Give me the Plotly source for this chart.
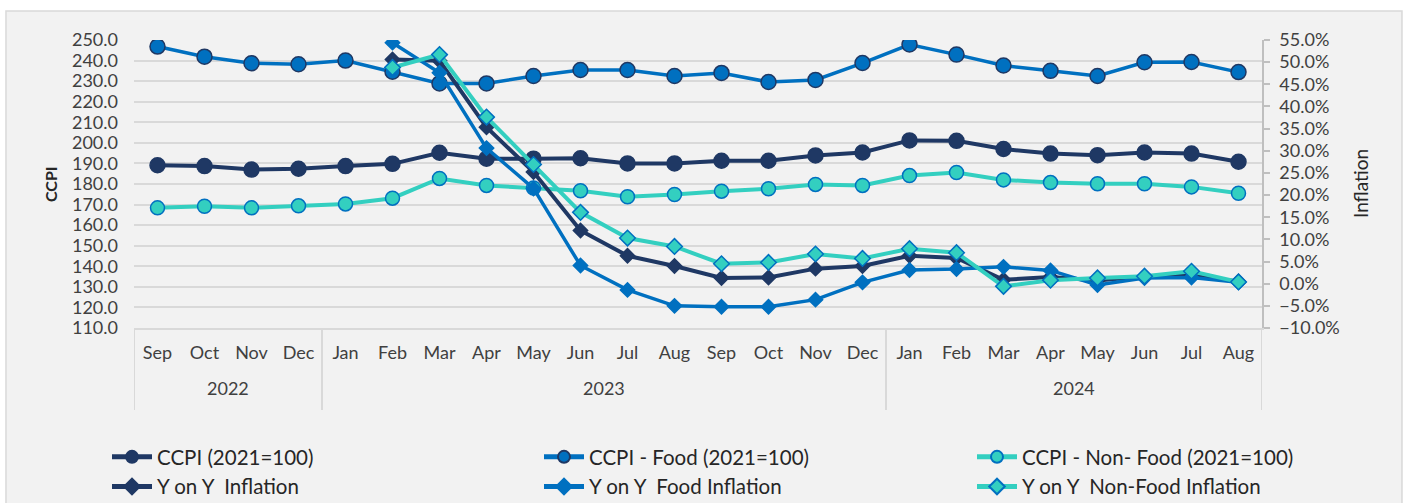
import plotly.graph_objects as go

years = ["2022"] * 4 + ["2023"] * 12 + ["2024"] * 8
months = ["Sep", "Oct", "Nov", "Dec",
          "Jan", "Feb", "Mar", "Apr", "May", "Jun", "Jul", "Aug", "Sep", "Oct", "Nov", "Dec",
          "Jan", "Feb", "Mar", "Apr", "May", "Jun", "Jul", "Aug"]

ccpi = [189.1, 188.7, 187.0, 187.4, 188.7, 189.8, 195.2, 192.3, 192.3, 192.5, 190.0, 190.0,
        191.3, 191.3, 193.9, 195.3, 201.2, 201.0, 197.0, 194.8, 194.0, 195.3, 194.8, 190.8]
ccpi_food = [246.8, 241.9, 238.7, 238.2, 240.0, 234.6, 228.9, 228.9, 232.5, 235.4, 235.4, 232.5,
             234.0, 229.6, 230.6, 238.8, 247.8, 242.9, 237.6, 235.0, 232.5, 239.2, 239.3, 234.4]
ccpi_nonfood = [168.4, 169.2, 168.4, 169.4, 170.3, 173.1, 182.7, 179.3, 178.1, 176.7, 173.8, 174.9,
                176.5, 177.7, 179.8, 179.3, 184.1, 185.6, 182.0, 180.7, 180.1, 180.1, 178.6, 175.5]

yoy_infl = [None, None, None, None, None, 50.6, 50.3, 35.3, 25.2, 12.0, 6.3, 4.0,
            1.3, 1.4, 3.4, 4.0, 6.3, 5.8, 0.9, 1.5, 0.7, 1.6, 1.8, 0.5]
yoy_food = [None, None, None, None, None, 54.4, 47.6, 30.6, 21.5, 4.1, -1.4, -5.0,
            -5.2, -5.2, -3.6, 0.3, 3.1, 3.3, 3.8, 3.0, -0.3, 1.3, 1.4, 0.3]
yoy_nonfood = [None, None, None, None, None, 48.8, 51.7, 37.6, 26.9, 16.1, 10.3, 8.4,
               4.5, 4.8, 6.7, 5.7, 7.9, 7.0, -0.6, 0.8, 1.3, 1.7, 2.8, 0.4]

NAVY = "#1F3864"
BLUE = "#0070C0"
TEAL = "#33CFC0"
GRID = "#D9D9D9"
TXT = "#404040"

idx = list(range(len(months)))

# year groups derived from the data
groups = []
for i, yv in enumerate(years):
    if not groups or groups[-1][0] != yv:
        groups.append([yv, i, i])
    else:
        groups[-1][2] = i

fig = go.Figure()


def add(y, name, color, width, symbol, size, outline, legend, yaxis="y"):
    fig.add_trace(go.Scatter(
        x=idx, y=y, name=name, mode="lines+markers", yaxis=yaxis, legend=legend,
        line=dict(color=color, width=width),
        marker=dict(symbol=symbol, size=size, color=color, line=dict(color=outline, width=1.5))))


add(ccpi, "CCPI (2021=100)", NAVY, 4, "circle", 15, NAVY, "legend")
add(ccpi_food, "CCPI - Food (2021=100)", BLUE, 3.5, "circle", 15, NAVY, "legend2")
add(ccpi_nonfood, "CCPI - Non- Food (2021=100)", TEAL, 4, "circle", 14, BLUE, "legend3")
add(yoy_infl, "Y on Y  Inflation", NAVY, 4, "diamond", 11, NAVY, "legend", "y2")
add(yoy_food, "Y on Y  Food Inflation", BLUE, 3.5, "diamond", 11, BLUE, "legend2", "y2")
add(yoy_nonfood, "Y on Y  Non-Food Inflation", TEAL, 4, "diamond", 12, BLUE, "legend3", "y2")

tickfont = dict(family="Lato", size=18, color=TXT)
legfont = dict(family="Lato", size=20.5, color="#262626")
leg_top = 1 - 437 / 503


def legend_at(px):
    return dict(orientation="v", x=px / 1407, xanchor="left", xref="container",
                y=leg_top, yanchor="top", yref="container", font=legfont,
                tracegroupgap=0, itemwidth=40, itemsizing="constant",
                bgcolor="rgba(0,0,0,0)")


shapes = [dict(type="rect", xref="paper", yref="paper", x0=-0.1135, x1=1.1241,
               y0=-0.70, y1=1.1007, fillcolor="#F2F2F2",
               line=dict(color=GRID, width=1.5), layer="below")]
bounds = [g[1] - 0.5 for g in groups] + [groups[-1][2] + 0.5]
for b in bounds:
    shapes.append(dict(type="line", xref="x", yref="paper", x0=b, x1=b, y0=0, y1=-0.285,
                       line=dict(color=GRID, width=2)))

annotations = [dict(x=(g[1] + g[2]) / 2, y=-0.208, xref="x", yref="paper", text=g[0],
                    showarrow=False, yanchor="middle", font=tickfont) for g in groups]
annotations.append(dict(x=-0.0745, y=0.5, xref="paper", yref="paper", text="<b>CCPI</b>",
                        textangle=-90, showarrow=False, xanchor="center", yanchor="middle",
                        font=dict(family="Lato", size=16, color="#262626")))
annotations.append(dict(x=1.0869, y=0.5, xref="paper", yref="paper", text="Inflation",
                        textangle=-90, showarrow=False, xanchor="center", yanchor="middle",
                        font=dict(family="Lato", size=19, color="#262626")))

fig.update_layout(
    width=1407, height=503,
    margin=dict(l=134, r=145, t=40, b=175, autoexpand=False),
    paper_bgcolor="white",
    plot_bgcolor="rgba(0,0,0,0)",
    font=dict(family="Lato", color=TXT),
    showlegend=True,
    legend=legend_at(107),
    legend2=legend_at(539),
    legend3=legend_at(972),
    xaxis=dict(range=[-0.5, len(months) - 0.5], tickvals=idx, ticktext=months,
               tickfont=tickfont, showgrid=False, automargin=False, zeroline=False,
               showline=True, linecolor=GRID, linewidth=2, ticks="", ticklabelstandoff=7),
    yaxis=dict(range=[110, 250], dtick=10, tick0=110, tickformat=".1f", automargin=False,
               tickfont=tickfont, showgrid=True, gridcolor=GRID, gridwidth=2,
               zeroline=False, showline=False, ticks="", ticklabelstandoff=15),
    yaxis2=dict(range=[-10, 55], dtick=5, tick0=-10, tickformat=".1f", ticksuffix="%",
                overlaying="y", side="right", showgrid=False, zeroline=False, automargin=False,
                showline=True, linecolor="#BFBFBF", linewidth=1.5,
                ticks="outside", ticklen=6, tickcolor="#BFBFBF", tickwidth=1.5,
                tickfont=tickfont, ticklabelstandoff=6),
    shapes=shapes,
    annotations=annotations,
)

fig.write_html("out.html", config={"displayModeBar": False},
               post_script="document.body.style.margin='0';")
